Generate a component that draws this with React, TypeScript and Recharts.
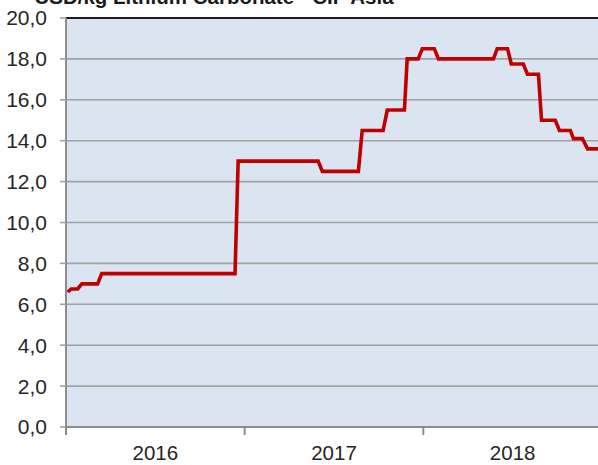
import { LineChart, Line, XAxis, YAxis, CartesianGrid, ReferenceLine } from "recharts";

// weeks counted from the start of 2016, price in USD/kg
const WEEKS = [
  0.5, 1.5, 3.4, 4.6, 9.2, 10.4, 49.2, 50.1, 73.4, 74.6, 85.1, 86.2,
  92.3, 93.5, 98.5, 99.3, 102.5, 103.7, 107.2, 108.4, 124.4, 125.5, 128.5, 129.6,
  133.1, 134.3, 137.5, 138.4, 142.4, 143.6, 146.8, 147.7, 150.3, 151.8, 155.0, 155.8,
];
const PRICES = [
  6.6, 6.75, 6.75, 7.0, 7.0, 7.5, 7.5, 13.0, 13.0, 12.5, 12.5, 14.5,
  14.5, 15.5, 15.5, 18.0, 18.0, 18.5, 18.5, 18.0, 18.0, 18.5, 18.5, 17.75,
  17.75, 17.25, 17.25, 15.0, 15.0, 14.5, 14.5, 14.1, 14.1, 13.6, 13.6, 13.7,
];
const YEAR_TICKS = [0, 26, 52, 78, 104, 130];
const YEAR_LABELS: Record<number, string> = { 26: "2016", 78: "2017", 130: "2018" };
const Y_TICKS = [0, 2, 4, 6, 8, 10, 12, 14, 16, 18, 20];
const TITLE = "USD/kg Lithium Carbonate - CIF Asia";

const FONT = '"Liberation Sans", Arial, sans-serif';
const AXIS_GRAY = "#8c8c8c";
const GRID_GRAY = "#a2a2a2";
const TEXT = "#262626";

const data = WEEKS.map((w, i) => ({ week: w, price: PRICES[i] }));

function YearTick(props: any) {
  const { x, y, payload } = props;
  const label = YEAR_LABELS[payload.value];
  if (label) {
    return (
      <text x={x} y={y + 33} textAnchor="middle" fill={TEXT} fontSize={20.5} fontFamily={FONT}>
        {label}
      </text>
    );
  }
  return <line x1={x} x2={x} y1={y} y2={y + 8} stroke={AXIS_GRAY} strokeWidth={2} />;
}

export default function App() {
  return (
    <div style={{ position: "fixed", left: 0, top: 0, width: 598, height: 465, overflow: "hidden", background: "#fff" }}>
      <div
        style={{
          position: "absolute", left: 0, top: -13, width: 428, textAlign: "center",
          fontFamily: FONT, fontWeight: "bold", fontSize: 20.5, lineHeight: "20.5px", color: "#1a1a1a",
          whiteSpace: "nowrap", zIndex: 1,
        }}
      >
        {TITLE}
      </div>
      <LineChart width={602} height={465} data={data} margin={{ top: 18, right: 0, bottom: 0, left: 0 }}>
        <CartesianGrid vertical={false} stroke={GRID_GRAY} strokeWidth={1.6} fill="#dbe5f1" fillOpacity={1} />
        <XAxis
          dataKey="week" type="number" domain={[0, 156]} ticks={YEAR_TICKS} interval={0}
          tickLine={false} tickSize={0} tickMargin={0} height={38}
          axisLine={{ stroke: AXIS_GRAY, strokeWidth: 2 }} tick={<YearTick />}
        />
        <YAxis
          domain={[0, 20]} ticks={Y_TICKS} interval={0} width={66}
          tickFormatter={(v: number) => v.toFixed(1).replace(".", ",")}
          tick={{ fill: TEXT, fontSize: 21, fontFamily: FONT }}
          tickSize={6} tickMargin={13}
          tickLine={{ stroke: GRID_GRAY, strokeWidth: 1.6 }}
          axisLine={{ stroke: AXIS_GRAY, strokeWidth: 2 }}
        />
        <ReferenceLine y={20} stroke="#1e1e1e" strokeWidth={2} />
        <Line
          type="linear" dataKey="price" stroke="#c00000" strokeWidth={3.6}
          strokeLinejoin="miter" dot={false} activeDot={false} isAnimationActive={false}
        />
      </LineChart>
    </div>
  );
}
